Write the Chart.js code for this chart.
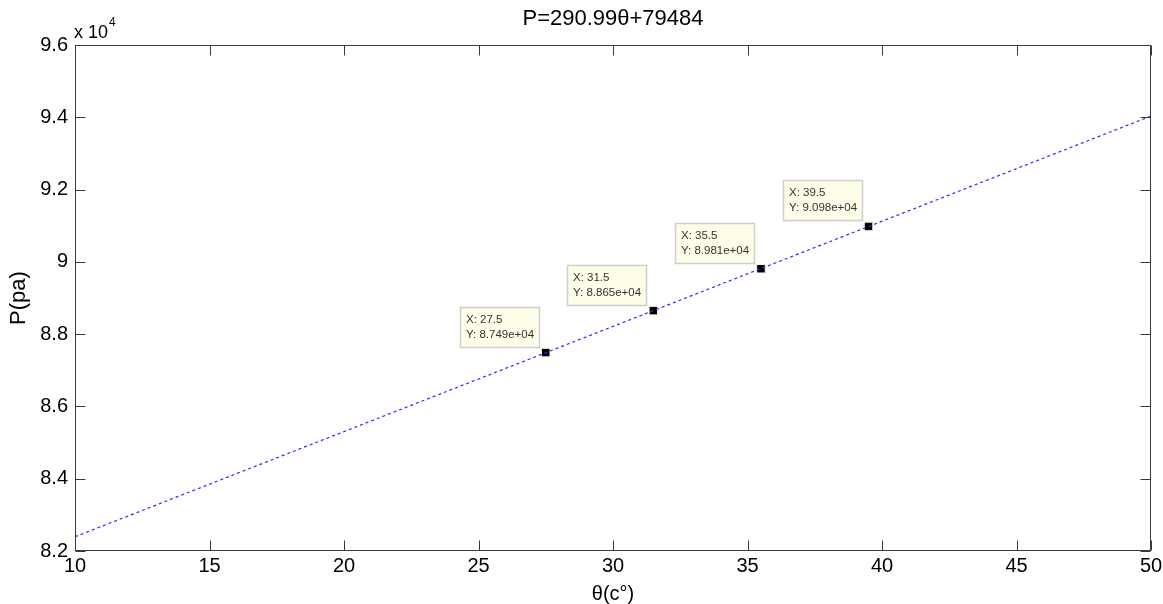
<!DOCTYPE html>
<html>
<head>
<meta charset="utf-8">
<title>P=290.99θ+79484</title>
<script src="https://cdn.jsdelivr.net/npm/chart.js@4.4.0/dist/chart.umd.min.js"></script>
<style>
  html, body { margin: 0; padding: 0; background: #fff; }
  #wrap { width: 1163px; height: 604px; }
</style>
</head>
<body>
<div id="wrap"><canvas id="grafico" width="1163" height="604"></canvas></div>
<script>
// Datos
const ajusteX = [10, 50];
const ajusteY = [82394, 94034];
const puntosX = [27.5, 31.5, 35.5, 39.5];
const puntosY = [87490, 88650, 89810, 90980];
const ticksX = [10, 15, 20, 25, 30, 35, 40, 45, 50];
const ticksY = [8.2, 8.4, 8.6, 8.8, 9, 9.2, 9.4, 9.6]; // x 10^4

const fuente = 'Arial, "Liberation Sans", Helvetica, sans-serif';

// Marco con marcas hacia dentro, en los cuatro lados
const marco = {
    id: 'marco',
    afterDatasetsDraw(chart) {
        const { ctx, chartArea: a, scales } = chart;
        const L = Math.round(a.left) + 0.5, R = Math.round(a.right) - 0.5;
        const T = Math.round(a.top) + 0.5, B = Math.round(a.bottom) - 0.5;
        ctx.save();
        ctx.strokeStyle = '#3a3a3a';
        ctx.lineWidth = 1;
        ctx.strokeRect(L, T, R - L, B - T);
        ctx.beginPath();
        ticksX.forEach(v => {
            const x = Math.round(scales.x.getPixelForValue(v)) + 0.5;
            ctx.moveTo(x, B); ctx.lineTo(x, B - 10);
            ctx.moveTo(x, T); ctx.lineTo(x, T + 10);
        });
        ticksY.forEach(v => {
            const y = Math.round(scales.y.getPixelForValue(v * 1e4)) + 0.5;
            ctx.moveTo(L, y); ctx.lineTo(L + 10, y);
            ctx.moveTo(R, y); ctx.lineTo(R - 10, y);
        });
        ctx.stroke();

        // exponente del eje y
        ctx.fillStyle = '#000';
        ctx.textBaseline = 'alphabetic';
        ctx.textAlign = 'left';
        ctx.font = '18px ' + fuente;
        const base = 'x 10';
        ctx.fillText(base, a.left - 1, 38);
        const w = ctx.measureText(base).width;
        ctx.font = '12px ' + fuente;
        ctx.fillText('4', a.left - 1 + w + 1, 26);
        ctx.restore();
    }
};

// Cuadros de datos (data tips)
const etiquetas = {
    id: 'etiquetas',
    afterDraw(chart) {
        const { ctx } = chart;
        const meta = chart.getDatasetMeta(1);
        ctx.save();
        ctx.font = '11.5px ' + fuente;
        meta.data.forEach((p, i) => {
            const l1 = 'X: ' + puntosX[i];
            const l2 = 'Y: ' + puntosY[i].toExponential(3).replace(/e\+(\d)$/, 'e+0$1');
            const tw = Math.max(ctx.measureText(l1).width, ctx.measureText(l2).width);
            const bw = Math.round(tw + 12), bh = 41;
            const bx = Math.round(p.x) - 6 - bw, by = Math.round(p.y) - 5 - bh;
            ctx.fillStyle = '#fdfde8';
            ctx.fillRect(bx, by, bw, bh);
            ctx.strokeStyle = '#cfcfcf';
            ctx.lineWidth = 1.5;
            ctx.strokeRect(bx + 0.5, by + 0.5, bw - 1, bh - 1);
            ctx.fillStyle = '#333';
            ctx.textAlign = 'left';
            ctx.textBaseline = 'middle';
            ctx.fillText(l1, bx + 6, by + 13);
            ctx.fillText(l2, bx + 6, by + 28);
        });
        ctx.restore();
    }
};

const grafico = new Chart(document.getElementById('grafico'), {
    type: 'scatter',
    data: {
        datasets: [{
            label: 'ajuste',
            data: ajusteX.map((x, i) => ({ x: x, y: ajusteY[i] })),
            showLine: true,
            borderColor: '#2a2aff',
            borderWidth: 1.2,
            borderDash: [3, 3],
            pointRadius: 0,
            fill: false
        }, {
            label: 'puntos',
            data: puntosX.map((x, i) => ({ x: x, y: puntosY[i] })),
            pointStyle: 'rect',
            pointRadius: 6,
            backgroundColor: '#000',
            borderColor: '#f6f6d8',
            borderWidth: 1
        }]
    },
    options: {
        responsive: false,
        animation: false,
        layout: { padding: { left: 0, right: 12, top: 0, bottom: 0 } },
        plugins: {
            legend: { display: false },
            tooltip: { enabled: false },
            title: {
                display: true,
                fullSize: false,
                text: 'P=290.99θ+79484',
                color: '#000',
                font: { family: fuente, size: 22, weight: 'normal', lineHeight: 1.2 },
                padding: { top: 6, bottom: 12.6 }
            }
        },
        scales: {
            x: {
                type: 'linear',
                min: 10,
                max: 50,
                afterBuildTicks: s => { s.ticks = ticksX.map(v => ({ value: v })); },
                afterFit: s => { s.height = 53; s.paddingLeft = 0; s.paddingRight = 0; },
                grid: { display: false, drawTicks: false },
                border: { display: false },
                ticks: {
                    padding: 3,
                    color: '#000',
                    font: { family: fuente, size: 20 },
                    maxRotation: 0,
                    autoSkip: false
                },
                title: {
                    display: true,
                    text: 'θ(c°)',
                    color: '#000',
                    font: { family: fuente, size: 20, lineHeight: 1 },
                    padding: { top: 0, bottom: 0 }
                }
            },
            y: {
                type: 'linear',
                min: 82000,
                max: 96000,
                afterBuildTicks: s => { s.ticks = ticksY.map(v => ({ value: v * 1e4 })); },
                afterFit: s => { s.width = 75; s.paddingTop = 0; s.paddingBottom = 0; },
                grid: { display: false, drawTicks: false },
                border: { display: false },
                ticks: {
                    padding: 7,
                    color: '#000',
                    font: { family: fuente, size: 20 },
                    autoSkip: false,
                    callback: v => String(+(v / 1e4).toFixed(1))
                },
                title: {
                    display: true,
                    text: 'P(pa)',
                    color: '#000',
                    font: { family: fuente, size: 22, lineHeight: 1 },
                    padding: { top: 8, bottom: 0 }
                }
            }
        }
    },
    plugins: [marco, etiquetas]
});
</script>
</body>
</html>
